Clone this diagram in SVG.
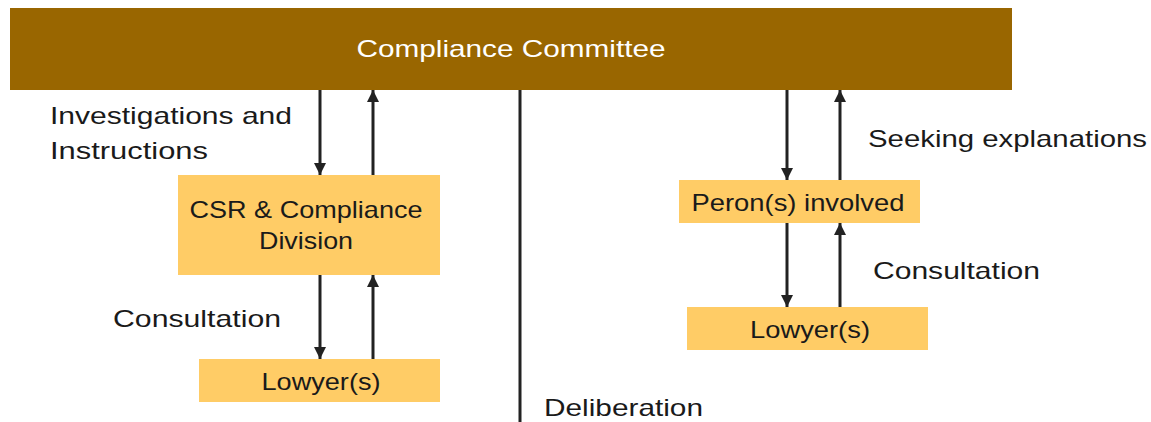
<svg xmlns="http://www.w3.org/2000/svg" width="1151" height="422" viewBox="0 0 1151 422">
<style>
text{font-family:"Liberation Sans","Noto Sans",sans-serif;font-size:24px;fill:#1a1a1a}
.c{text-anchor:middle}
.w{fill:#ffffff}
.box{fill:#FFCC66}
.ln{stroke:#222;stroke-width:3;fill:none}
</style>
<defs>
<marker id="ah" viewBox="0 0 10 10" refX="10" refY="5" markerWidth="4" markerHeight="4" markerUnits="strokeWidth" orient="auto">
<path d="M0,0L10,5L0,10z" fill="#222"/>
</marker>
</defs>
<rect width="1151" height="422" fill="#fff"/>
<g id="committee">
<rect x="10" y="8" width="1002" height="82" fill="#996600"/>
<text class="c w" x="511" y="57" textLength="309" lengthAdjust="spacingAndGlyphs">Compliance Committee</text>
</g>
<g id="csr">
<rect class="box" x="178" y="175" width="262" height="100"/>
<text class="c" x="306" y="218" textLength="233" lengthAdjust="spacingAndGlyphs">CSR &amp; Compliance</text>
<text class="c" x="306" y="249" textLength="94" lengthAdjust="spacingAndGlyphs">Division</text>
</g>
<g id="lawyer-left">
<rect class="box" x="199" y="359" width="241" height="43"/>
<text class="c" x="321" y="390" textLength="119" lengthAdjust="spacingAndGlyphs">Lowyer(s)</text>
</g>
<g id="person">
<rect class="box" x="679" y="180" width="241" height="43"/>
<text class="c" x="798" y="211" textLength="213" lengthAdjust="spacingAndGlyphs">Peron(s) involved</text>
</g>
<g id="lawyer-right">
<rect class="box" x="687" y="307" width="241" height="43"/>
<text class="c" x="810" y="338" textLength="120" lengthAdjust="spacingAndGlyphs">Lowyer(s)</text>
</g>
<g id="connectors">
<line class="ln" x1="320" y1="90" x2="320" y2="175" marker-end="url(#ah)"/>
<line class="ln" x1="373" y1="175" x2="373" y2="90" marker-end="url(#ah)"/>
<line class="ln" x1="320" y1="275" x2="320" y2="359" marker-end="url(#ah)"/>
<line class="ln" x1="373" y1="359" x2="373" y2="275" marker-end="url(#ah)"/>
<line class="ln" x1="787" y1="90" x2="787" y2="180" marker-end="url(#ah)"/>
<line class="ln" x1="840" y1="180" x2="840" y2="90" marker-end="url(#ah)"/>
<line class="ln" x1="787" y1="223" x2="787" y2="307" marker-end="url(#ah)"/>
<line class="ln" x1="840" y1="307" x2="840" y2="223" marker-end="url(#ah)"/>
<line class="ln" x1="520" y1="90" x2="520" y2="422"/>
</g>
<g id="labels">
<text x="50" y="124" textLength="242" lengthAdjust="spacingAndGlyphs">Investigations and</text>
<text x="50" y="159" textLength="158" lengthAdjust="spacingAndGlyphs">Instructions</text>
<text x="113" y="327" textLength="168" lengthAdjust="spacingAndGlyphs">Consultation</text>
<text x="868" y="147" textLength="279" lengthAdjust="spacingAndGlyphs">Seeking explanations</text>
<text x="873" y="279" textLength="167" lengthAdjust="spacingAndGlyphs">Consultation</text>
<text x="544" y="416" textLength="159" lengthAdjust="spacingAndGlyphs">Deliberation</text>
</g>
</svg>
